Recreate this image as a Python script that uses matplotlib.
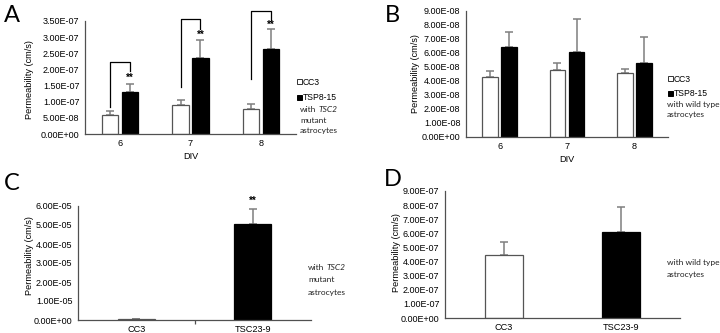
import numpy as np
import matplotlib
matplotlib.use("Agg")
import matplotlib.pyplot as plt
from matplotlib.ticker import MultipleLocator, FuncFormatter
from matplotlib.patches import Patch

plt.rcParams['font.family'] = ['Liberation Sans', 'DejaVu Sans']

# ---------------- data ----------------
div_labels = ['6', '7', '8']
series_names = ['CC3', 'TSP8-15']

# Panel A (with TSC2 mutant astrocytes)
cc3_A = [5.9e-8, 9.0e-8, 7.6e-8]
cc3_A_err = [1.1e-8, 1.6e-8, 1.7e-8]
tsp_A = [1.31e-7, 2.34e-7, 2.63e-7]
tsp_A_err = [2.3e-8, 5.7e-8, 6.2e-8]
# significance brackets in panel A (data units)
bracket_top_A = [2.23e-7, 3.56e-7, 3.81e-7]
bracket_left_bottom_A = [0.85e-7, 1.45e-7, 1.71e-7]
bracket_right_bottom_A = [1.94e-7, 3.24e-7, 3.53e-7]
star_y_A = [1.74e-7, 3.08e-7, 3.38e-7]

# Panel B (with wild type astrocytes)
cc3_B = [4.25e-8, 4.80e-8, 4.56e-8]
cc3_B_err = [0.48e-8, 0.52e-8, 0.29e-8]
tsp_B = [6.41e-8, 6.06e-8, 5.32e-8]
tsp_B_err = [1.12e-8, 2.37e-8, 1.81e-8]

# Panel C / D
cats_CD = ['CC3', 'TSC23-9']
vals_C = [3.0e-7, 5.05e-5]
err_C = [2.0e-7, 0.80e-5]
star_y_C = 6.26e-5
vals_D = [4.43e-7, 6.10e-7]
err_D = [0.95e-7, 1.75e-7]

# ---------------- style ----------------
W, H = 720, 333
fig = plt.figure(figsize=(W / 100, H / 100), dpi=100)

AX_COL = '#505050'
ERR_COL = '#7f7f7f'
EDGE_COL = '#555555'
TICK_FS = 6.5
LAB_FS = 6.6
NOTE_FONT = ['Lato', 'DejaVu Sans']


def ax_px(x0, x1, ytop, ybot):
    return fig.add_axes([x0 / W, 1 - ybot / H, (x1 - x0) / W, (ybot - ytop) / H])


def fmt(v, pos):
    return f"{v:.2E}"


def style(ax, step, ymax):
    ax.set_ylim(0, ymax)
    ax.yaxis.set_major_locator(MultipleLocator(step))
    ax.yaxis.set_major_formatter(FuncFormatter(fmt))
    for s in ('top', 'right'):
        ax.spines[s].set_visible(False)
    for s in ('left', 'bottom'):
        ax.spines[s].set_color(AX_COL)
        ax.spines[s].set_linewidth(0.9)
    ax.tick_params(axis='y', length=0, pad=4.0, labelsize=TICK_FS)
    ax.tick_params(axis='x', length=0, pad=3.5, labelsize=LAB_FS)
    ax.set_facecolor('none')


def fig_text(x, y, s, **kw):
    return fig.text(x / W, 1 - y / H, s, **kw)


def grouped(ax, a, ae, b, be):
    x = np.arange(len(a))
    off, w = 0.142, 0.234
    ax.bar(x - off, a, w, color='white', edgecolor=EDGE_COL, linewidth=0.9, zorder=2)
    ax.bar(x + off, b, w, color='black', edgecolor='black', linewidth=0.9, zorder=2)
    for xs, v, e in ((x - off, a, ae), (x + off, b, be)):
        ax.errorbar(xs, v, yerr=[np.zeros(len(v)), e], fmt='none', ecolor=ERR_COL,
                    elinewidth=1.1, capsize=3.0, capthick=1.1, zorder=1)
    ax.set_xlim(-0.5, len(a) - 0.5)
    ax.set_xticks(x)
    ax.set_xticklabels(div_labels)
    return x, off


def single(ax, vals, errs, cats):
    x = np.arange(len(vals))
    w = 0.32
    ax.bar(x[0], vals[0], w, color='white', edgecolor=EDGE_COL, linewidth=0.9, zorder=2)
    ax.bar(x[1], vals[1], w, color='black', edgecolor='black', linewidth=0.9, zorder=2)
    ax.errorbar(x, vals, yerr=[np.zeros(len(vals)), errs], fmt='none', ecolor=ERR_COL,
                elinewidth=1.1, capsize=3.0, capthick=1.1, zorder=1)
    ax.set_xlim(-0.5, len(vals) - 0.5)
    ax.set_xticks(x)
    ax.set_xticklabels(cats)
    return x


def note(x, y, lines, italic_word=None, line_gap=10.5, fs=6.0):
    renderer = fig.canvas.get_renderer()
    for i, ln in enumerate(lines):
        yy = y + i * line_gap
        if italic_word and italic_word in ln:
            pre = ln.split(italic_word)[0].rstrip()
            t = fig_text(x, yy, pre, fontsize=fs, family=NOTE_FONT, va='center', ha='left', color='#222222')
            bb = t.get_window_extent(renderer)
            fig.text((bb.x1 + 2.2) / W, 1 - yy / H, italic_word, fontsize=fs, family=NOTE_FONT,
                     style='italic', va='center', ha='left', color='#222222')
        else:
            fig_text(x, yy, ln, fontsize=fs, family=NOTE_FONT, va='center', ha='left', color='#222222')


def legend_at(x, y, spacing):
    handles = [Patch(facecolor='white', edgecolor='#333333', linewidth=0.7),
               Patch(facecolor='black', edgecolor='black', linewidth=0.7)]
    fig.legend(handles, series_names, loc='upper left', bbox_to_anchor=(x / W, 1 - y / H),
               frameon=False, fontsize=6.2, handlelength=0.55, handleheight=0.5,
               handletextpad=0.15, labelspacing=spacing, borderpad=0, borderaxespad=0)


# ---------------- Panel A ----------------
axA = ax_px(85, 296, 21, 134)
style(axA, 5e-8, 3.5e-7)
xA, offA = grouped(axA, cc3_A, cc3_A_err, tsp_A, tsp_A_err)
axA.set_xlabel('DIV', fontsize=LAB_FS, labelpad=3)
for i in range(len(xA)):
    xl, xr = xA[i] - offA, xA[i] + offA
    axA.plot([xl, xl, xr, xr],
             [bracket_left_bottom_A[i], bracket_top_A[i], bracket_top_A[i], bracket_right_bottom_A[i]],
             color='black', lw=0.9, clip_on=False, zorder=3)
    axA.text(xr, star_y_A[i], '**', ha='center', va='center', fontsize=7, fontweight='bold')
fig_text(29, 80, 'Permeability (cm/s)', rotation=90, fontsize=LAB_FS, ha='center', va='center')
legend_at(297, 78, 0.75)
note(300, 110, ['with TSC2', 'mutant', 'astrocytes'], italic_word='TSC2', line_gap=10.5)
fig_text(4, 15, 'A', fontsize=17, family=NOTE_FONT, ha='left', va='center')

# ---------------- Panel B ----------------
axB = ax_px(466, 668, 11, 137)
style(axB, 1e-8, 9e-8)
grouped(axB, cc3_B, cc3_B_err, tsp_B, tsp_B_err)
axB.set_xlabel('DIV', fontsize=LAB_FS, labelpad=3)
fig_text(416, 74, 'Permeability (cm/s)', rotation=90, fontsize=LAB_FS, ha='center', va='center')
legend_at(668, 75, 0.6)
note(667, 104, ['with wild type', 'astrocytes'], line_gap=10)
fig_text(385, 15, 'B', fontsize=17, family=NOTE_FONT, ha='left', va='center')

# ---------------- Panel C ----------------
axC = ax_px(78, 311, 206, 320)
style(axC, 1e-5, 6e-5)
xC = single(axC, vals_C, err_C, cats_CD)
axC.set_xticks([0.5], minor=True)
axC.tick_params(axis='x', which='minor', length=3, width=0.9, color=AX_COL, direction='out')
axC.text(xC[1], star_y_C, '**', ha='center', va='center', fontsize=7, fontweight='bold', clip_on=False)
fig_text(30, 256, 'Permeability (cm/s)', rotation=90, fontsize=LAB_FS, ha='center', va='center')
note(308, 267, ['with TSC2', 'mutant', 'astrocytes'], italic_word='TSC2', line_gap=12.5)
fig_text(4, 183, 'C', fontsize=17, family=NOTE_FONT, ha='left', va='center')

# ---------------- Panel D ----------------
axD = ax_px(445, 680, 191, 318)
style(axD, 1e-7, 9e-7)
single(axD, vals_D, err_D, cats_CD)
fig_text(396, 253, 'Permeability (cm/s)', rotation=90, fontsize=LAB_FS, ha='center', va='center')
note(667, 263, ['with wild type', 'astrocytes'], line_gap=12)
fig_text(384, 179, 'D', fontsize=17, family=NOTE_FONT, ha='left', va='center')

fig.savefig('out.png', dpi=100, facecolor='white')
